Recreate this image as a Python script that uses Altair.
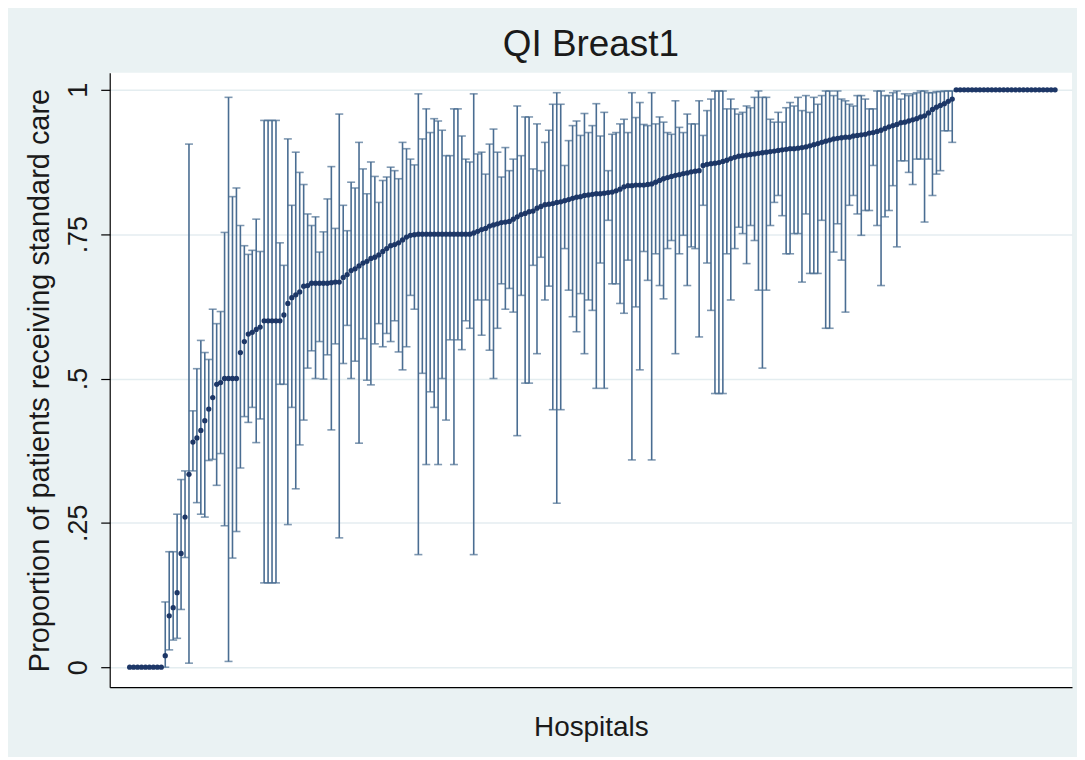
import altair as alt
import pandas as pd

# Hospitals sorted by proportion receiving standard care (QI Breast1)
zeros_n = 9
ones_n = 26

rate_mid = [
    .02, .089, .103, .129, .197, .26, .334, .39, .397, .41, .427, .447, .467, .49, .493,
    .50, .50, .50, .50, .545, .564, .577, .58, .585, .589, .60, .60, .60, .60, .60,
    .61, .63, .64, .645, .65, .66, .661, .665, .665, .665, .665, .665, .666, .667, .667,
    .675, .68, .687, .69, .695, .70, .703, .708, .71, .714, .72, .725, .73, .732, .735,
    .74, .745, .748, .749, .75, .75, .75, .75, .75, .75, .75, .75, .75, .75, .75, .75,
    .75, .75, .752, .755,
    .758, .76, .764, .766, .768, .77, .771, .772, .776, .78, .784, .786, .789, .79, .795,
    .798, .801, .802, .803, .805, .806, .808, .81, .812, .814, .815, .817, .818, .819, .82,
    .82, .821, .822, .823, .825, .828, .832, .834, .834, .835, .835, .835, .836, .837, .84,
    .843, .846,
    .848, .85, .852, .853, .855, .856, .858, .859, .86, .869, .871, .872, .873, .874, .876,
    .878, .881, .883, .885, .886, .887, .888, .889, .89, .891, .892, .893, .894, .895, .896,
    .897, .898, .898, .899, .90, .901, .903, .905, .907, .909, .911, .913, .915, .916, .917,
    .918, .918, .92,
    .921, .922, .923, .925, .926, .928, .93, .933, .936, .938, .94, .943, .944, .946,
    .948, .95, .953, .955, .96, .966, .97, .973, .976, .98, .984,
]
lower_mid = [
    0, .03, .047, .05, .10, .19, .007, .34, .285, .265, .26, .358, .36, .315, .37,
    .245, .01, .189, .235, .345, .434, .424, .45, .389, .43, .146, .146, .146, .146, .49,
    .49, .247, .45, .309, .385, .428, .518, .548, .50, .564, .499, .541, .411, .56, .224,
    .526, .592, .50, .53, .388, .569, .497, .489, .56, .595, .555, .578, .564, .60, .546,
    .515, .555, .644, .62, .195, .509, .351, .477, .45, .351, .50, .428, .567, .351, .567, .55,
    .60, .587, .195, .636,
    .575, .636, .549, .50, .587, .664, .62, .656, .615, .401, .644, .492, .492, .696, .543,
    .71, .636, .66, .446, .284, .446, .725, .653, .607, .581, .647, .543, .636, .618, .483,
    .70, .483, .774, .664, .664, .63, .613, .705, .359, .624, .515, .72, .67, .359, .716,
    .661, .638,
    .725, .739, .543, .716, .748, .661, .728, .725, .572, .80, .70, .618, .474, .474, .474,
    .716, .636, .725, .762, .751, .699, .765, .739, .653, .518, .653, .765, .805, .817, .782,
    .716, .716, .751, .751, .667, .785, .682, .682, .682, .774, .587, .587, .719, .768, .705,
    .615, .80, .817,
    .785, .748, .791, .791, .869, .765, .661, .78, .791, .834, .728, .877, .877, .857,
    .836, .88, .88, .771, .88, .817, .854, .86, .929, .929, .909,
]
upper_mid = [
    .113, .20, .20, .265, .325, .34, .906, .444, .517, .566, .545, .533, .62, .595, .616,
    .753, .987, .815, .83, .765, .73, .715, .722, .776, .72, .947, .947, .947, .947, .735,
    .696, .915, .80, .892, .857, .836, .785, .765, .78, .719, .754, .811, .867, .76, .958,
    .80, .756, .84, .83, .909, .863, .82, .875, .85, .805, .843, .849, .866, .86, .846,
    .909, .898, .88, .87, .993, .915, .967, .926, .95, .946, .93, .886, .886, .967, .967, .92,
    .88, .875, .993, .889,
    .892, .854, .906, .932, .892, .849, .90, .86, .88, .972, .886, .953, .953, .863, .941,
    .86, .909, .93, .975, .995, .975, .869, .912, .938, .946, .921, .959, .926, .938, .976,
    .92, .961, .86, .923, .926, .941, .949, .926, .995, .952, .978, .94, .938, .995, .941,
    .953, .944,
    .926, .923, .981, .935, .926, .958, .941, .941, .981, .921, .964, .984, .998, .998, .998,
    .967, .984, .967, .958, .961, .972, .969, .987, .998, .987, .987, .949, .944, .961, .944,
    .969, .978, .972, .987, .964, .99, .961, .987, .975, .99, .998, .998, .99, .998, .984,
    .981, .975, .972,
    .99, .99, .984, .967, .967, .998, .998, .99, .99, .995, .998, .984, .993, .99,
    .993, .995, .998, .998, .995, .995, .997, .997, .998, .998, .998,
]

rate = [0.0] * zeros_n + rate_mid + [1.0] * ones_n
lower = [0.0] * zeros_n + lower_mid + [1.0] * ones_n
upper = [0.0] * zeros_n + upper_mid + [1.0] * ones_n

n = len(rate)
df = pd.DataFrame({"hospital": list(range(n)), "rate": rate, "lo": lower, "hi": upper})

FONT = "Liberation Sans"
BAR = "#4a6d92"
DOT = "#1d3767"
TXT = "#1a1a1a"

step = 928.0 / (n - 1)
xscale = alt.Scale(domain=[-20.0 / step, (1075 - 130) / step], nice=False, zero=False)
yscale = alt.Scale(domain=[-20.0 / 579, 596.0 / 579], nice=False, zero=False)

xaxis = alt.Axis(title="Hospitals", labels=False, ticks=False, grid=False,
                 domainColor="#000000", domainWidth=1.2, titleFont=FONT,
                 titleFontSize=28, titleFontWeight="normal", titleColor=TXT,
                 titlePadding=26)
yaxis = alt.Axis(title="Proportion of patients receiving standard care",
                 values=[0, 0.25, 0.5, 0.75, 1],
                 labelExpr="datum.value == 0 ? '0' : datum.value == 1 ? '1' : replace(format(datum.value, '.2~f'), '0.', '.')",
                 labelAngle=-90, labelAlign="center", labelBaseline="bottom",
                 labelFont=FONT, labelFontSize=27, labelColor=TXT, labelPadding=8,
                 tickSize=9, tickColor="#000000", tickWidth=1.2,
                 domainColor="#000000", domainWidth=1.2,
                 gridColor="#e4edf0", gridWidth=1.5,
                 titleFont=FONT, titleFontSize=29, titleFontWeight="normal",
                 titleColor=TXT, titlePadding=10)

X = alt.X("hospital:Q", scale=xscale, axis=xaxis)
base = alt.Chart(df).encode(x=X)
bars = base.transform_filter("datum.hi > datum.lo")

rules = bars.mark_rule(color=BAR, strokeWidth=1.6).encode(
    y=alt.Y("lo:Q", scale=yscale, axis=yaxis), y2="hi:Q")
cap_lo = bars.mark_tick(orient="horizontal", color=BAR, size=8, thickness=1.6).encode(
    y=alt.Y("lo:Q", scale=yscale, axis=yaxis))
cap_hi = bars.mark_tick(orient="horizontal", color=BAR, size=8, thickness=1.6).encode(
    y=alt.Y("hi:Q", scale=yscale, axis=yaxis))
points = base.mark_circle(color=DOT, opacity=1, size=28).encode(
    y=alt.Y("rate:Q", scale=yscale, axis=yaxis))

chart = alt.layer(rules, cap_lo, cap_hi, points).properties(
    width=965, height=616,
    padding={"left": 102, "top": 64, "right": 5, "bottom": 69},
    autosize=alt.AutoSizeParams(type="none"),
    background="#eaf2f3",
    title=alt.TitleParams("QI Breast1", font=FONT, fontSize=37, fontWeight="normal",
                          color=TXT, anchor="middle", offset=9),
).configure_view(fill="white", stroke=None)

chart.save("out.html", embed_options={"renderer": "svg", "actions": False})
